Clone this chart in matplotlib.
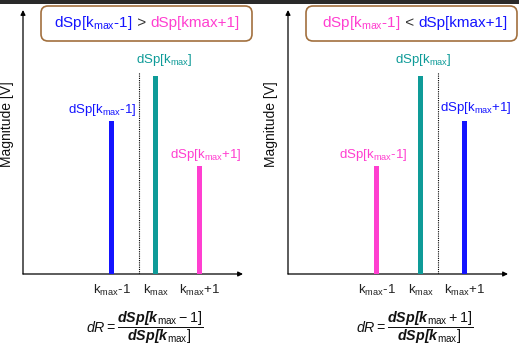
import matplotlib
matplotlib.use("Agg")
import matplotlib.pyplot as plt
from matplotlib.patches import FancyBboxPatch, Rectangle
from matplotlib.transforms import IdentityTransform
from matplotlib.offsetbox import TextArea, HPacker, AnnotationBbox

plt.rcParams['font.family'] = 'Liberation Sans'
plt.rcParams['mathtext.fontset'] = 'custom'
plt.rcParams['mathtext.rm'] = 'Liberation Sans'
plt.rcParams['mathtext.it'] = 'Liberation Sans:italic'
plt.rcParams['mathtext.bf'] = 'Liberation Sans:bold'
plt.rcParams['mathtext.bfit'] = 'Liberation Sans:italic:bold'

# datos
k_pos = [-1, 0, 1]
tick_labels = [r'k$_{\mathrm{max}}$-1', r'k$_{\mathrm{max}}$', r'k$_{\mathrm{max}}$+1']
bar_labels = [r'dSp[k$_{\mathrm{max}}$-1]', r'dSp[k$_{\mathrm{max}}$]', r'dSp[k$_{\mathrm{max}}$+1]']
mag_left = [0.58, 0.75, 0.41]
mag_right = [0.41, 0.75, 0.58]
dotted_top = 0.765

BLUE = '#1414ff'
TEAL = '#0e9b98'
PINK = '#ff3fd0'
BROWN = '#a2703e'

W, H = 519, 351
fig = plt.figure(figsize=(W / 100, H / 100), dpi=100)

# franja oscura arriba
fig.add_artist(Rectangle((0, 1 - 4 / H), 1, 4 / H, transform=fig.transFigure,
                         color='#2a2a2a', lw=0))


def panel(x0, mags, colors, dot_x, label_dx, label_dy):
    ax = fig.add_axes([x0 / W, 1 - 274 / H, 220 / W, 264 / H])
    ax.set_xlim(-3.02, 1.98)
    ax.set_ylim(0, 1)
    ax.axis('off')
    # ejes con flecha
    arrow = dict(arrowstyle='-|>', lw=0.9, color='black', mutation_scale=7,
                 shrinkA=0, shrinkB=0)
    ax.annotate('', xy=(1, 0), xytext=(0, 0), xycoords='axes fraction', arrowprops=arrow)
    ax.annotate('', xy=(0, 1), xytext=(0, 0), xycoords='axes fraction', arrowprops=arrow)
    # barras
    ax.bar(k_pos, mags, width=0.11, color=colors, zorder=3)
    ax.vlines(dot_x, 0, dotted_top, colors='black', linestyles=(0, (1, 1)), lw=0.8)
    for k, m, c, lab, dx, dy in zip(k_pos, mags, colors, bar_labels, label_dx, label_dy):
        ax.annotate(lab, xy=(k, m), xytext=(dx, dy), textcoords='offset pixels',
                    ha='center', va='bottom', color=c, fontsize=9.5)
    for k, lab in zip(k_pos, tick_labels):
        ax.annotate(lab, xy=(k, 0), xytext=(0, -9), textcoords='offset pixels',
                    ha='center', va='top', color='#222222', fontsize=9.5)
    return ax


panel(23, mag_left, [BLUE, TEAL, PINK], -0.38, [-10, 8, 6], [3, 8, 3])
panel(288, mag_right, [PINK, TEAL, BLUE], 0.38, [-4, 2, 11], [3, 8, 5])

# etiquetas eje y
for xl in (7, 271):
    fig.text(xl / W, 1 - 124 / H, 'Magnitude [V]', rotation=90, ha='center',
             va='center', fontsize=10, color='#111111')

# cajas superiores
for bx in (41, 306):
    fig.add_artist(FancyBboxPatch((bx, H - 41), 211, 35,
                                  boxstyle='round,pad=0,rounding_size=7',
                                  transform=IdentityTransform(), fc='white',
                                  ec=BROWN, lw=1.2))


def rainbow(x, y, parts):
    areas = [TextArea(t, textprops=dict(color=c, fontsize=11)) for t, c in parts]
    pack = HPacker(children=areas, align='baseline', pad=0, sep=0)
    ab = AnnotationBbox(pack, (x / W, 1 - y / H), xycoords='figure fraction',
                        frameon=False, box_alignment=(0.5, 0.5))
    fig.add_artist(ab)


rainbow(147, 23, [(r'dSp[k$_{\mathrm{max}}$-1]', BLUE), (' > ', '#333333'),
                  ('dSp[kmax+1]', PINK)])
rainbow(415, 23, [(r'dSp[k$_{\mathrm{max}}$-1]', PINK), (' < ', '#333333'),
                  ('dSp[kmax+1]', BLUE)])

# fórmulas
f_left = r'$\mathit{dR} = \dfrac{\mathbfit{dSp[k}_{\mathrm{max}} - 1]}{\mathbfit{dSp[k}_{\mathrm{max}}]}$'
f_right = r'$\mathit{dR} = \dfrac{\mathbfit{dSp[k}_{\mathrm{max}} + 1]}{\mathbfit{dSp[k}_{\mathrm{max}}]}$'
fig.text(145 / W, 1 - 328 / H, f_left, ha='center', va='center', fontsize=10.3, color='#111111')
fig.text(415 / W, 1 - 328 / H, f_right, ha='center', va='center', fontsize=10.3, color='#111111')

fig.savefig('out.png', dpi=100)
